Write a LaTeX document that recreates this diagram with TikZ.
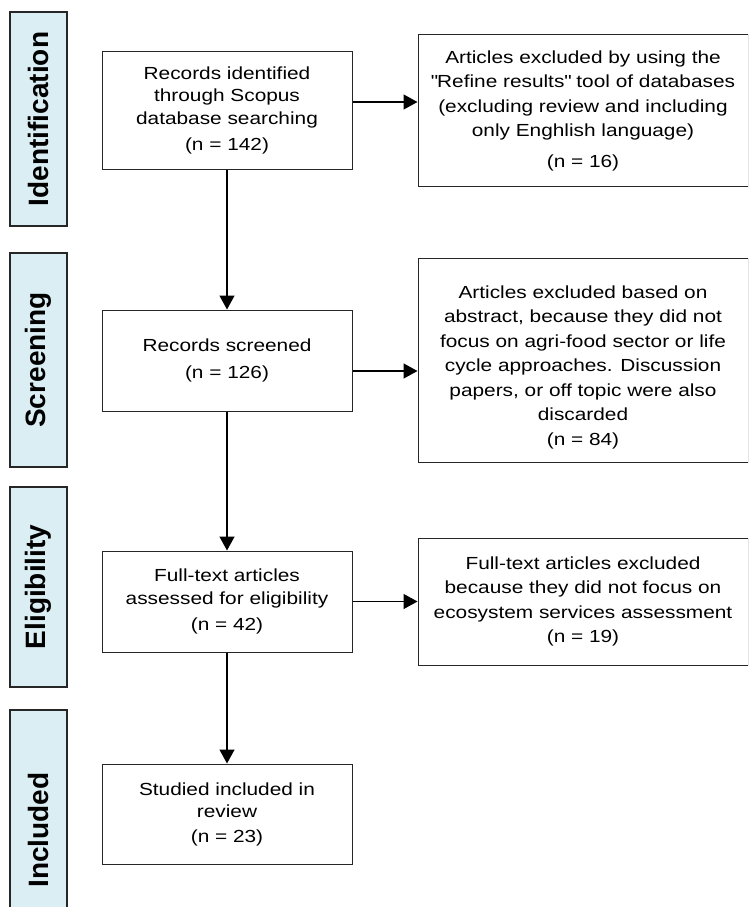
\documentclass[tikz,border=0pt]{standalone}
\usepackage{fontspec}
\setmainfont{Liberation Sans}
\newfontfamily\boxfont[FakeStretch=1.19]{Liberation Sans}
\usepackage{xcolor}
\usepackage{tikz}
\usetikzlibrary{positioning, arrows.meta}

\definecolor{phasefill}{HTML}{DAEEF3}

\begin{document}
\begin{tikzpicture}[
    x=1pt, y=-1pt,
    node distance=140pt and 65pt,
    stage/.style={
        rectangle, draw=black!85, fill=white, line width=1pt,
        minimum width=250pt, inner sep=2pt,
        align=center, font=\boxfont\fontsize{17.5}{22.5}\selectfont
    },
    excluded/.style={
        stage, minimum width=330pt,
        font=\boxfont\fontsize{17.5}{24.5}\selectfont
    },
    phase/.style={
        rectangle, draw=black!85, fill=phasefill, line width=1.2pt,
        rotate=90, minimum height=57pt, inner sep=0pt,
        font=\fontsize{28}{30}\selectfont\bfseries
    },
    flow/.style={-{Triangle[length=14pt, width=15pt]}, line width=1.4pt}
]

% 0. Page frame (bottom phase bar runs off the page)
\useasboundingbox (0,0) rectangle (748,907);
\clip (0,0) rectangle (748,907);
\fill[white] (0,0) rectangle (748,907);

% 1. Phase bars on the left
\node[phase, minimum width=214pt] (identification) at (38.5,119) {Identification};
\node[phase, minimum width=214pt] (screening) at (38.5,360) {Screening};
\node[phase, minimum width=200pt] (eligibility) at (38.5,587) {Eligibility};
\node[phase, minimum width=240pt] (included) at (38.5,830) {Included};

% 2. Main column
\node[stage, minimum height=117pt] (identified) at (227,110.5) {
    Records identified\\ through Scopus\\ database searching\\[4pt] (n = 142)
};
\node[stage, minimum height=101pt, below=140pt of identified] (screened) {
    Records screened\\[4pt] (n = 126)
};
\node[stage, minimum height=101pt, below=139pt of screened] (assessed) {
    Full-text articles\\ assessed for eligibility\\[4pt] (n = 42)
};
\node[stage, minimum height=100pt, below=111pt of assessed] (studies) {
    Studied included in\\ review\\[2pt] (n = 23)
};

% 3. Exclusion boxes on the right
\node[excluded, minimum height=151pt, right=of identified] (refine) {
    Articles excluded by using the\\ \textquotedbl Refine results\textquotedbl{} tool of databases\\
    (excluding review and including\\ only Enghlish language)\\[6pt] (n = 16)
};
\node[excluded, minimum height=204pt, right=of screened] (abstract) {
    \rule{0pt}{26pt}Articles excluded based on\\ abstract, because they did not\\
    focus on agri-food sector or life\\ cycle approaches. Discussion\\
    papers, or off topic were also\\ discarded\\ (n = 84)
};
\node[excluded, minimum height=127pt, right=of assessed] (fulltext) {
    Full-text articles excluded\\ because they did not focus on\\
    ecosystem services assessment\\ (n = 19)
};

% 4. Flow arrows
\draw[flow] (identified) -- (screened);
\draw[flow] (screened) -- (assessed);
\draw[flow] (assessed) -- (studies);

\draw[flow] ([yshift=8.5pt]identified.east) -- ([yshift=8.5pt]identified.east -| refine.west);
\draw[flow] ([yshift=-10.5pt]screened.east) -- ([yshift=-10.5pt]screened.east -| abstract.west);
\draw[flow] (assessed.east) -- (assessed.east -| fulltext.west);

\end{tikzpicture}
\end{document}
